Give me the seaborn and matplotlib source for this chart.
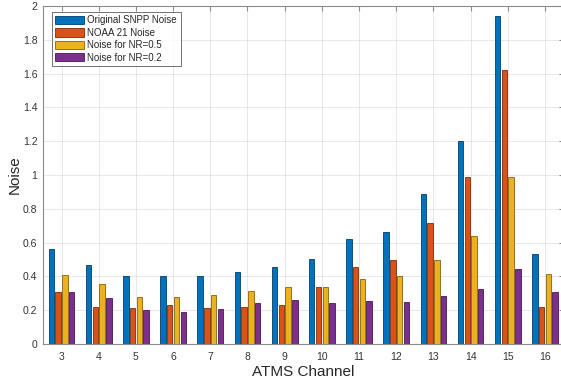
import numpy as np
import pandas as pd
import matplotlib
matplotlib.use("Agg")
import matplotlib.pyplot as plt
import matplotlib.colors as mcolors
import seaborn as sns

# ── DATA ──────────────────────────────────────────────────────────────────────
channels = [3, 4, 5, 6, 7, 8, 9, 10, 11, 12, 13, 14, 15, 16]
snpp     = [0.565, 0.47, 0.40, 0.405, 0.405, 0.425, 0.455, 0.505, 0.62, 0.66, 0.89, 1.20, 1.94, 0.535]
noaa21   = [0.31, 0.22, 0.215, 0.23, 0.215, 0.22, 0.23, 0.34, 0.455, 0.50, 0.715, 0.99, 1.62, 0.22]
nr05     = [0.41, 0.355, 0.28, 0.28, 0.29, 0.315, 0.34, 0.335, 0.385, 0.40, 0.50, 0.64, 0.99, 0.415]
nr02     = [0.31, 0.27, 0.20, 0.19, 0.21, 0.24, 0.26, 0.24, 0.255, 0.25, 0.285, 0.325, 0.445, 0.305]

series = ["Original SNPP Noise", "NOAA 21 Noise", "Noise for NR=0.5", "Noise for NR=0.2"]
colors = ["#0072BD", "#D95319", "#EDB120", "#7E2F8E"]

df = pd.DataFrame({
    "channel": [str(c) for c in channels] * 4,
    "noise": snpp + noaa21 + nr05 + nr02,
    "series": np.repeat(series, len(channels)),
})

# ── STYLE ─────────────────────────────────────────────────────────────────────
sns.set_style("white")
plt.rcParams["font.family"] = ["Liberation Sans", "DejaVu Sans"]

fig = plt.figure(figsize=(5.61, 3.81), dpi=100)
ax = fig.add_axes([0.0766, 0.0971, 0.928, 0.887])

sns.barplot(data=df, x="channel", y="noise", hue="series",
            hue_order=series, palette=colors, order=[str(c) for c in channels],
            width=0.727, gap=0.2, ax=ax, linewidth=0.6, saturation=1,
            errorbar=None)

# darker outline per bar, like the original
for p in ax.patches:
    fc = np.array(mcolors.to_rgb(p.get_facecolor()))
    p.set_edgecolor(tuple(fc * 0.55))

ax.set_xlim(-0.5, len(channels) - 0.5)
ax.set_ylim(0, 2)
ax.set_yticks(np.arange(0, 2.01, 0.2))
ax.set_yticklabels(["0", "0.2", "0.4", "0.6", "0.8", "1", "1.2", "1.4", "1.6", "1.8", "2"])

ax.grid(True, color="#262626", alpha=0.12, linewidth=0.6)
ax.set_axisbelow(True)
for s in ax.spines.values():
    s.set_color("#8c8c8c")
    s.set_linewidth(0.8)
    s.set_visible(True)
ax.tick_params(direction="in", top=True, right=True, length=3.5,
               color="#8c8c8c", labelsize=7.5, labelcolor="#333333", pad=4)
ax.tick_params(axis="x", pad=6)

ax.set_xlabel("ATMS Channel", fontsize=11, color="#262626", labelpad=2)
ax.set_ylabel("Noise", fontsize=11, color="#262626", labelpad=1)

leg = ax.legend(loc="upper left", bbox_to_anchor=(52 / 561, 1 - 12 / 381),
                bbox_transform=fig.transFigure, fontsize=7, frameon=True,
                fancybox=False, edgecolor="#333333", handlelength=2.9,
                handleheight=0.9, labelspacing=0.25, handletextpad=0.4,
                borderpad=0.35, borderaxespad=0)
leg.get_frame().set_linewidth(0.6)

fig.savefig("out.png", dpi=100)
